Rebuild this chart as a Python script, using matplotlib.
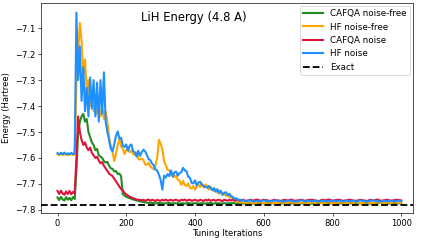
import numpy as np
import matplotlib
matplotlib.use("Agg")
import matplotlib.pyplot as plt

# iterations: every 5 up to 545, then every 10 (flat part)
iters = list(range(0, 550, 5)) + list(range(550, 1001, 10))

exact = -7.782

hf_noise = [
    -7.581, -7.586, -7.580, -7.585, -7.579, -7.586, -7.582, -7.586, -7.580, -7.585,
    -7.583, -7.040, -7.300, -7.170, -7.380, -7.250, -7.420, -7.330, -7.440, -7.290,
    -7.410, -7.300, -7.440, -7.310, -7.460, -7.300, -7.430, -7.270, -7.460, -7.500,
    -7.530, -7.565, -7.575, -7.548, -7.515, -7.498, -7.525, -7.522, -7.552, -7.558,
    -7.548, -7.572, -7.552, -7.548, -7.575, -7.578, -7.595, -7.572, -7.592, -7.578,
    -7.568, -7.575, -7.588, -7.605, -7.608, -7.622, -7.628, -7.645, -7.648, -7.665,
    -7.685, -7.722, -7.668, -7.675, -7.662, -7.670, -7.648, -7.672, -7.655, -7.652,
    -7.668, -7.658, -7.655, -7.638, -7.648, -7.650, -7.672, -7.676, -7.696, -7.698,
    -7.686, -7.706, -7.694, -7.692, -7.704, -7.708, -7.712, -7.714, -7.708, -7.716,
    -7.724, -7.716, -7.730, -7.720, -7.734, -7.726, -7.742, -7.734, -7.732, -7.744,
    -7.738, -7.748, -7.750, -7.757, -7.755, -7.762, -7.760, -7.765, -7.763, -7.766,
    -7.766, -7.763, -7.768, -7.765, -7.768, -7.763, -7.767, -7.766, -7.765, -7.763,
    -7.767, -7.768, -7.764, -7.765, -7.768, -7.766, -7.763, -7.768, -7.765, -7.767,
    -7.764, -7.768, -7.765, -7.766, -7.768, -7.763, -7.767, -7.765, -7.768, -7.764,
    -7.767, -7.765, -7.768, -7.763, -7.766, -7.768, -7.765, -7.763, -7.767, -7.768,
    -7.765, -7.767, -7.764, -7.768, -7.765, -7.766,
]

hf_free = [
    -7.586, -7.589, -7.585, -7.589, -7.587, -7.585, -7.589, -7.587, -7.585, -7.589,
    -7.587, -7.300, -7.200, -7.080, -7.150, -7.280, -7.220, -7.340, -7.300, -7.400,
    -7.360, -7.420, -7.380, -7.430, -7.400, -7.440, -7.410, -7.450, -7.420, -7.460,
    -7.520, -7.555, -7.575, -7.612, -7.585, -7.552, -7.528, -7.555, -7.565, -7.585,
    -7.568, -7.565, -7.578, -7.572, -7.585, -7.588, -7.578, -7.604, -7.606, -7.602,
    -7.608, -7.625, -7.626, -7.618, -7.634, -7.638, -7.644, -7.628, -7.600, -7.530,
    -7.545, -7.566, -7.612, -7.628, -7.645, -7.648, -7.664, -7.658, -7.674, -7.668,
    -7.684, -7.688, -7.704, -7.688, -7.704, -7.708, -7.698, -7.714, -7.718, -7.708,
    -7.722, -7.708, -7.702, -7.712, -7.698, -7.714, -7.702, -7.708, -7.722, -7.710,
    -7.722, -7.728, -7.722, -7.732, -7.738, -7.732, -7.742, -7.738, -7.746, -7.740,
    -7.752, -7.748, -7.757, -7.758, -7.766, -7.767, -7.771, -7.770, -7.773, -7.771,
    -7.773, -7.771, -7.775, -7.772, -7.770, -7.775, -7.773, -7.771, -7.775, -7.773,
    -7.771, -7.775, -7.773, -7.770, -7.773, -7.775, -7.771, -7.773, -7.775, -7.771,
    -7.773, -7.770, -7.775, -7.773, -7.771, -7.775, -7.773, -7.771, -7.773, -7.775,
    -7.771, -7.773, -7.770, -7.775, -7.773, -7.771, -7.775, -7.773, -7.771, -7.773,
    -7.775, -7.771, -7.773, -7.770, -7.773, -7.772,
]

cafqa_free = [
    -7.752, -7.762, -7.750, -7.760, -7.764, -7.751, -7.761, -7.754, -7.763, -7.751,
    -7.758, -7.650, -7.500, -7.460, -7.440, -7.430, -7.460, -7.450, -7.500, -7.520,
    -7.540, -7.550, -7.570, -7.565, -7.590, -7.595, -7.600, -7.612, -7.618, -7.615,
    -7.630, -7.640, -7.642, -7.652, -7.650, -7.662, -7.660, -7.670, -7.740, -7.745,
    -7.750, -7.752, -7.755, -7.757, -7.760, -7.762, -7.764, -7.765, -7.767, -7.768,
    -7.770, -7.771, -7.772, -7.773, -7.772, -7.774, -7.773, -7.775, -7.774, -7.773,
    -7.775, -7.774, -7.776, -7.774, -7.775, -7.773, -7.775, -7.776, -7.774, -7.775,
    -7.774, -7.776, -7.775, -7.774, -7.776, -7.775, -7.773, -7.775, -7.776, -7.774,
    -7.775, -7.774, -7.776, -7.775, -7.774, -7.775, -7.776, -7.774, -7.775, -7.773,
    -7.775, -7.776, -7.774, -7.775, -7.774, -7.776, -7.775, -7.774, -7.775, -7.776,
    -7.774, -7.775, -7.773, -7.775, -7.776, -7.774, -7.775, -7.774, -7.776, -7.775,
    -7.775, -7.774, -7.776, -7.775, -7.774, -7.775, -7.776, -7.774, -7.775, -7.773,
    -7.775, -7.776, -7.774, -7.775, -7.774, -7.776, -7.775, -7.774, -7.775, -7.776,
    -7.774, -7.775, -7.773, -7.775, -7.776, -7.774, -7.775, -7.774, -7.776, -7.775,
    -7.775, -7.774, -7.776, -7.775, -7.774, -7.775, -7.776, -7.774, -7.775, -7.773,
    -7.775, -7.776, -7.774, -7.775, -7.774, -7.776,
]

cafqa_noise = [
    -7.727, -7.739, -7.726, -7.737, -7.742, -7.729, -7.739, -7.727, -7.740, -7.731,
    -7.736, -7.600, -7.440, -7.500, -7.530, -7.550, -7.540, -7.560, -7.570, -7.560,
    -7.580, -7.590, -7.600, -7.596, -7.610, -7.620, -7.616, -7.630, -7.640, -7.650,
    -7.660, -7.665, -7.670, -7.680, -7.690, -7.700, -7.710, -7.720, -7.725, -7.735,
    -7.740, -7.745, -7.750, -7.752, -7.755, -7.758, -7.760, -7.761, -7.762, -7.763,
    -7.761, -7.765, -7.762, -7.760, -7.765, -7.761, -7.763, -7.766, -7.761, -7.764,
    -7.765, -7.761, -7.764, -7.760, -7.765, -7.763, -7.761, -7.765, -7.762, -7.761,
    -7.764, -7.766, -7.761, -7.763, -7.760, -7.765, -7.762, -7.761, -7.765, -7.763,
    -7.761, -7.764, -7.765, -7.761, -7.763, -7.766, -7.761, -7.764, -7.760, -7.765,
    -7.763, -7.761, -7.765, -7.762, -7.761, -7.764, -7.766, -7.761, -7.763, -7.765,
    -7.761, -7.764, -7.760, -7.765, -7.762, -7.761, -7.765, -7.763, -7.761, -7.764,
    -7.765, -7.761, -7.764, -7.760, -7.765, -7.761, -7.763, -7.766, -7.761, -7.764,
    -7.765, -7.761, -7.764, -7.760, -7.765, -7.763, -7.761, -7.765, -7.762, -7.761,
    -7.764, -7.766, -7.761, -7.763, -7.760, -7.765, -7.762, -7.761, -7.765, -7.763,
    -7.761, -7.764, -7.765, -7.761, -7.763, -7.766, -7.761, -7.764, -7.760, -7.765,
    -7.763, -7.761, -7.765, -7.762, -7.761, -7.764,
]

fig = plt.figure(figsize=(422 / 60, 241 / 60), dpi=60)
ax = fig.add_axes([41 / 422, 1 - 213 / 241, 372 / 422, 210 / 241])

lw = 2.5
l1, = ax.plot(iters, cafqa_free, color="forestgreen", lw=lw, label="CAFQA noise-free")
l2, = ax.plot(iters, hf_free, color="orange", lw=lw, label="HF noise-free")
l3, = ax.plot(iters, cafqa_noise, color="crimson", lw=lw, label="CAFQA noise")
l4, = ax.plot(iters, hf_noise, color="dodgerblue", lw=lw, label="HF noise")
l5 = ax.axhline(exact, color="black", ls="--", lw=2.2, label="Exact")

ax.set_xlim(-48, 1034)
ax.set_ylim(-7.812, -7.003)
ax.set_xticks([0, 200, 400, 600, 800, 1000])
ax.set_yticks([-7.8, -7.7, -7.6, -7.5, -7.4, -7.3, -7.2, -7.1])
ax.tick_params(labelsize=10)
ax.set_xlabel("Tuning Iterations", fontsize=10, labelpad=1)
ax.set_ylabel("Energy (Hartree)", fontsize=10)
ax.text(0.41, 0.93, "LiH Energy (4.8 A)", transform=ax.transAxes,
        ha="center", va="center", fontsize=14)
ax.legend(handles=[l1, l2, l3, l4, l5], loc="upper right", fontsize=10.5,
          handlelength=2.3, borderaxespad=0.3)

fig.savefig("out.png", dpi=60)
